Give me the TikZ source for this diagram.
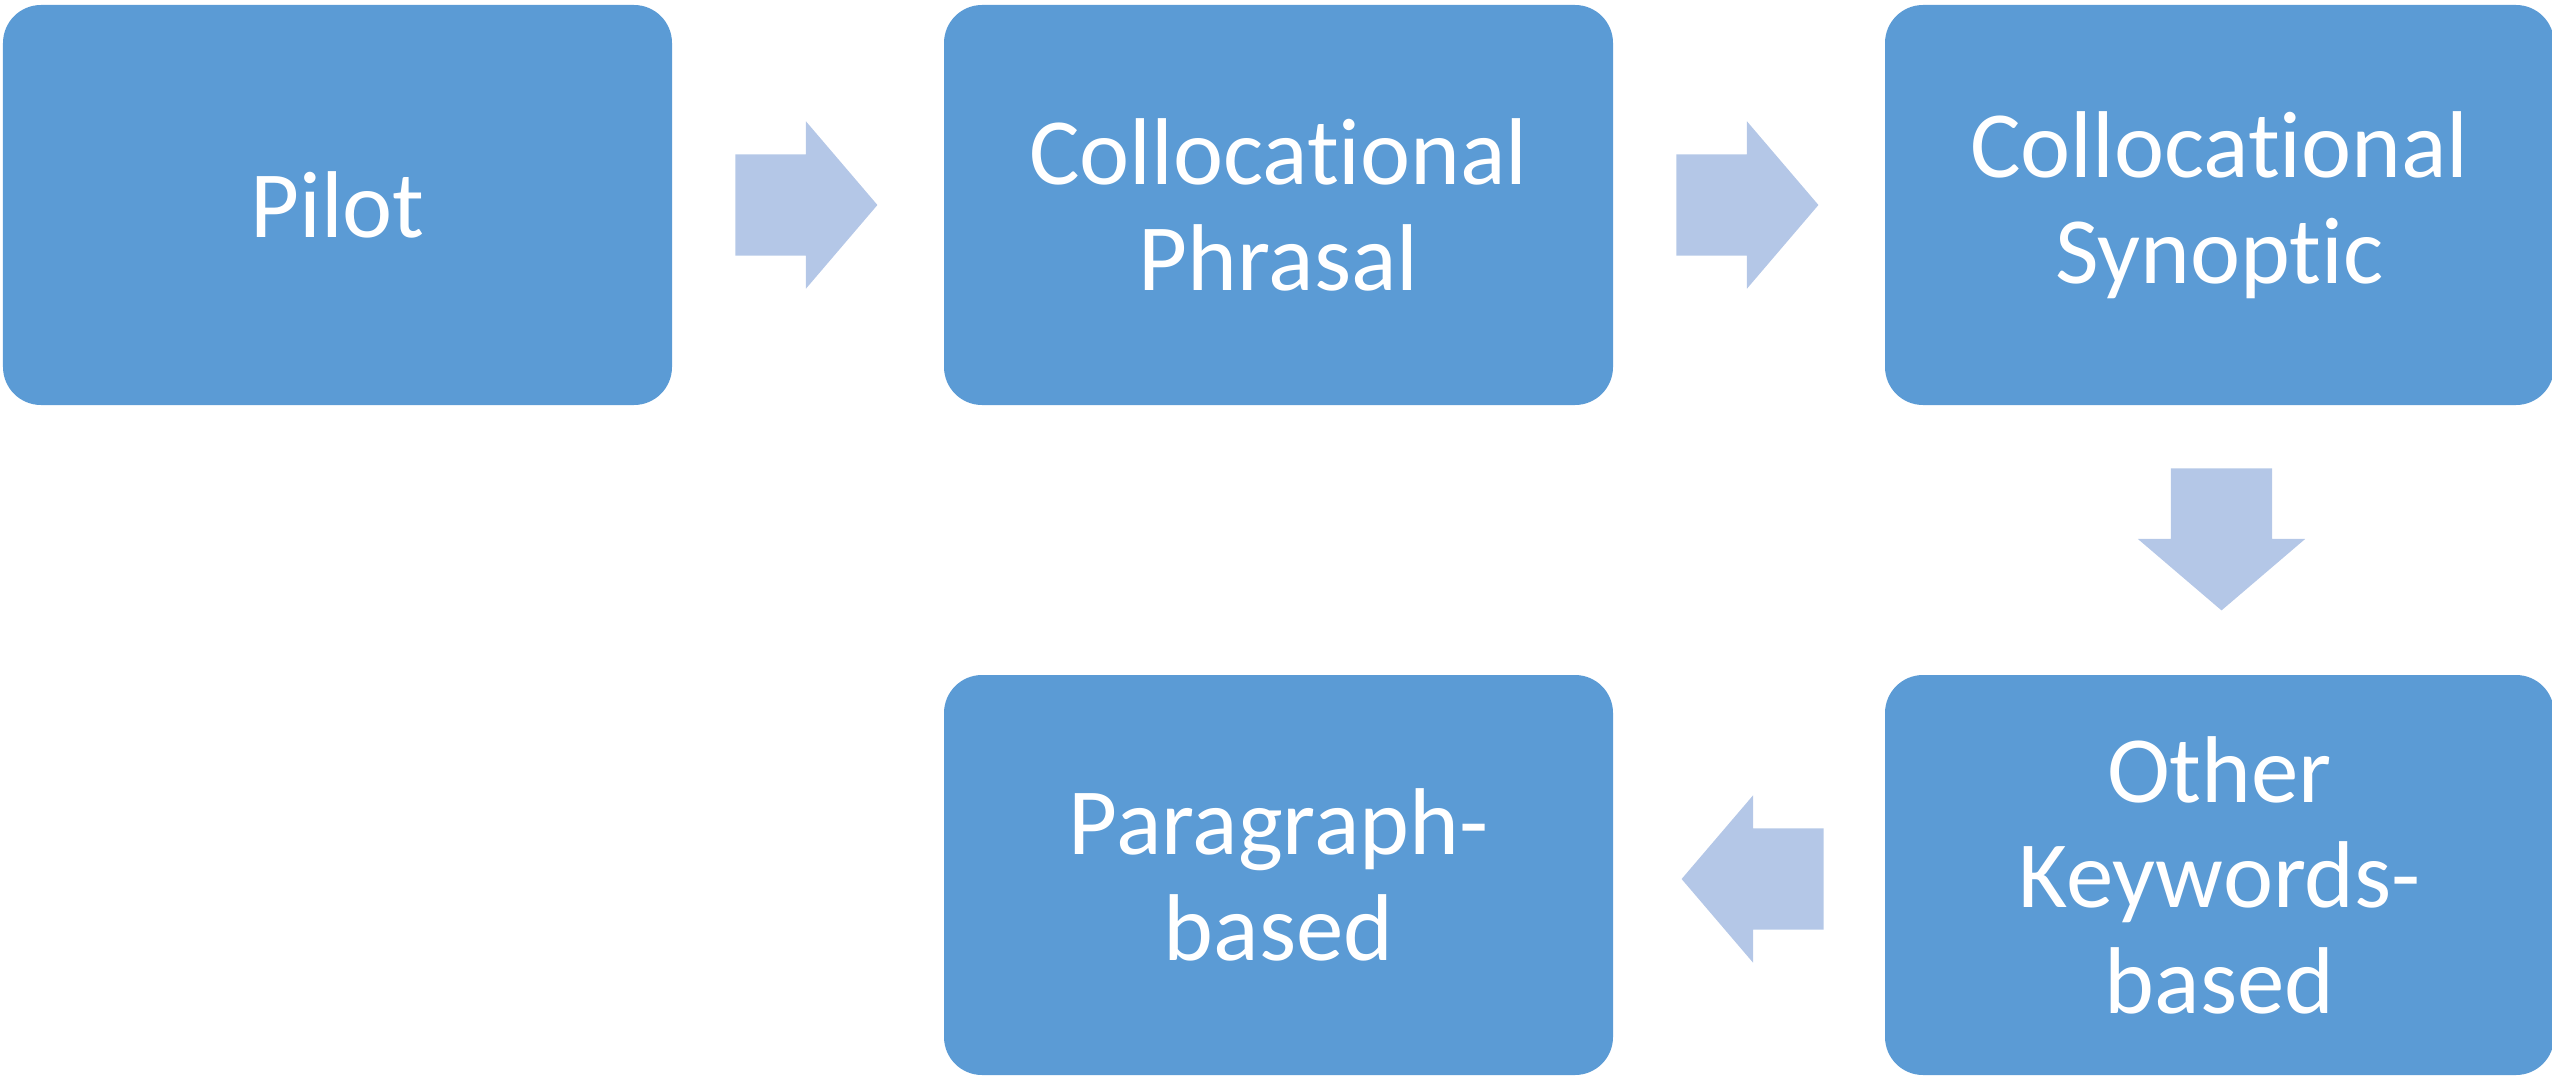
\documentclass[tikz,border=0pt]{standalone}
\usepackage{fontspec}
\setmainfont{Carlito}[Ligatures=NoCommon]
\usepackage{xcolor}
\usepackage{tikz}
\usetikzlibrary{calc,shapes.arrows}
\definecolor{stagefill}{HTML}{5B9BD5}
\definecolor{flowfill}{HTML}{B4C7E7}

\begin{document}
\begin{tikzpicture}[
    stage/.style={fill=stagefill, text=white, rounded corners=0.38cm,
      minimum width=6.69cm, minimum height=4cm, inner sep=0pt, align=center,
      font=\fontsize{27}{30}\selectfont},
    flow/.style={single arrow, fill=flowfill, inner xsep=0pt, inner ysep=0.5cm,
      minimum height=1.42cm, minimum width=1.66cm, anchor=tail,
      single arrow head extend=0.33cm, single arrow tip angle=99}]
  \useasboundingbox (0,0) rectangle (25.52,-10.77);
  % top row
  \node[stage] (pilot) at (3.375,-2.05) {Pilot};
  \node[stage] (phrasal) at (12.785,-2.05) {Collocational\\Phrasal};
  \node[stage] (synoptic) at (22.195,-2.05) {Collocational\\Synoptic};
  % bottom row
  \node[stage] (keywords) at (22.195,-8.75) {Other\\Keywords-\\based};
  \node[stage] (paragraph) at (12.785,-8.75) {Paragraph-\\based};
  % block arrows between the stages
  \node[flow] (pilot-phrasal) at ($(pilot.east)+(0.62,0)$) {};
  \node[flow] (phrasal-synoptic) at ($(phrasal.east)+(0.62,0)$) {};
  \node[flow, rotate=-90] (synoptic-keywords)
    at ($(synoptic.south)+(0.02,-0.62)$) {};
  \node[flow, rotate=180] (keywords-paragraph)
    at ($(keywords.west)+(-0.6,-0.04)$) {};
\end{tikzpicture}
\end{document}
